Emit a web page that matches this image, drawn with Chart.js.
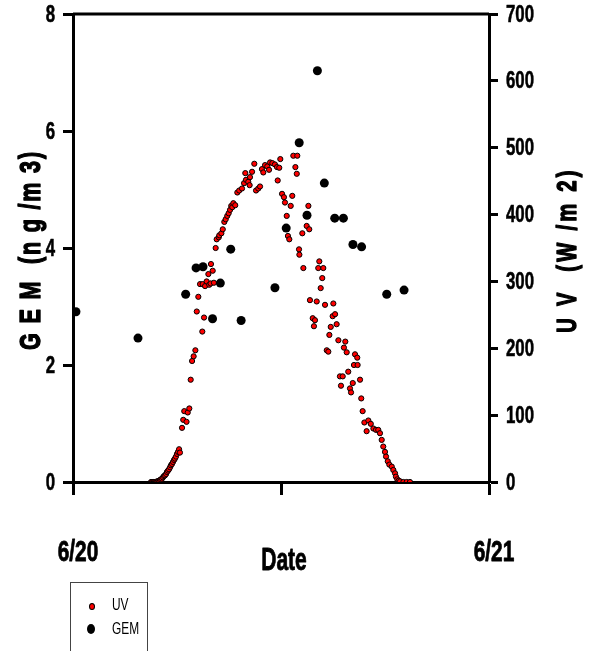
<!DOCTYPE html>
<html lang="en">
<head>
<meta charset="UTF-8">
<title>GEM and UV</title>
<script src="https://cdn.jsdelivr.net/npm/chart.js"></script>
<style>
  html, body { margin: 0; padding: 0; background: #fff; }
  #wrap { position: relative; width: 589px; height: 651px; overflow: hidden; }
  #legend { position: absolute; left: 70px; top: 582px; width: 76px; height: 90px; border: 1px solid #444;
            font: 17px "Liberation Sans", Arial, sans-serif; color: #000; }
  #legend .txt { position: absolute; left: 41px; line-height: 18px; transform: scaleX(0.7); transform-origin: 0 50%; }
  #legend .dot { position: absolute; border-radius: 50%; }
</style>
</head>
<body>
<div id="wrap">
  <canvas id="c" width="589" height="651"></canvas>
  <div id="legend">
    <span class="dot" style="left:18px;top:20px;width:4px;height:5px;background:#f00;border:1px solid #000;"></span>
    <span class="txt" style="top:13px;">UV</span>
    <span class="dot" style="left:16px;top:41px;width:8px;height:10px;background:#000;"></span>
    <span class="txt" style="top:37px;">GEM</span>
  </div>
</div>
<script>
// hours after 0:00 on 6/20
var uvHours = [
  4.50,4.56,4.62,4.67,4.73,4.79,4.85,4.90,4.96,5.02,5.08,5.13,5.19,5.25,5.31,5.37,5.42,5.48,5.54,5.60,
  5.65,5.71,5.77,5.83,5.88,5.94,6.00,6.06,6.12,6.17,
  6.29,6.36,6.42,6.55,6.62,6.71,6.79,6.87,6.96,7.06,
  7.14,7.23,7.33,7.46,7.48,7.56,7.62,7.71,7.81,7.86,
  7.94,7.96,8.06,8.13,8.23,8.29,8.41,8.44,8.56,8.64,
  8.73,8.81,8.90,8.98,9.06,9.13,9.19,9.25,9.36,9.48,
  9.59,9.75,9.87,9.94,9.98,10.11,10.19,10.21,10.33,10.46,
  10.56,10.69,10.79,10.90,10.98,11.08,11.21,11.31,11.37,11.50,
  11.65,11.77,11.81,11.90,11.96,12.06,12.17,12.23,12.33,12.40,
  12.48,12.56,12.65,12.71,12.83,12.91,12.94,13.04,13.06,13.23,
  13.29,13.44,13.48,13.58,13.63,13.67,13.83,13.90,13.96,14.06,
  14.15,14.21,14.29,14.38,14.44,14.54,14.64,14.73,14.79,14.87,
  14.98,15.02,15.12,15.21,15.31,15.40,15.46,15.56,15.63,15.71,
  15.79,15.88,15.98,16.04,16.14,16.21,16.27,16.40,16.42,16.56,
  16.63,16.71,16.81,16.94,17.04,17.18,17.33,17.48,17.61,17.71,
  17.81,17.90,18.00,18.06,18.16,18.25,18.39,18.48,18.58,18.63,
  18.71,18.79,18.87,19.06,19.25,19.44
];
// W/m2
var uvValues = [
  0,0,0,0,0,0,1,1,2,3,4,5,7,9,10,12,15,17,19,22,
  25,27,30,33,35,38,42,45,49,44,
  81,93,106,90,104,110,153,181,188,197,
  255,277,296,225,296,246,293,300,311,295,
  297,326,316,298,350,363,366,369,372,378,
  389,393,398,402,407,413,411,417,414,433,
  436,439,447,462,452,449,444,456,464,476,
  436,439,442,468,463,474,472,467,478,477,
  475,471,451,470,483,431,426,418,398,368,
  363,413,428,488,471,461,488,348,340,372,
  320,398,383,413,378,272,245,233,242,270,
  320,330,290,305,320,265,197,195,220,232,
  248,267,251,236,212,158,144,158,201,210,
  194,165,140,134,148,175,191,186,175,153,
  125,106,89,76,92,87,80,78,78,73,
  63,53,45,38,31,26,23,18,13,8,
  4,2,1,0,0,0
];
var gemHours = [0.17,3.75,6.50,7.10,7.50,8.05,8.50,9.10,9.70,11.65,12.30,13.05,13.50,14.10,14.50,15.10,15.60,16.15,16.65,18.10,19.10];
// ng/m3
var gemValues = [2.91,2.46,3.21,3.66,3.68,2.79,3.40,3.98,2.76,3.32,4.34,5.80,4.56,7.03,5.11,4.51,4.51,4.06,4.02,3.21,3.28];

var dateLabels = ['6/20', '', '6/21'];
var leftTitle = 'G E M  (n g /m 3)';
var rightTitle = 'U V  (W /m 2)';
var xTitle = 'Date';

var FONT = '"Liberation Sans", Arial, sans-serif';

var uvPoints = uvHours.map(function (h, i) { return { x: h, y: uvValues[i] }; });
var gemPoints = gemHours.map(function (h, i) { return { x: h, y: gemValues[i] }; });

// the original uses a tall condensed bold face, so text is squeezed sideways
// and given a thin outline to keep it heavy
function narrowText(ctx, text, x, y, o) {
  ctx.save();
  ctx.translate(x, y);
  if (o.rotate) ctx.rotate(o.rotate);
  ctx.scale(o.squeeze, 1);
  ctx.font = 'bold ' + o.size + 'px ' + FONT;
  if (o.spacing) ctx.letterSpacing = o.spacing + 'px';
  ctx.fillStyle = '#000';
  ctx.strokeStyle = '#000';
  ctx.lineWidth = o.heavy || 1;
  ctx.lineJoin = 'round';
  ctx.textAlign = o.align || 'center';
  ctx.textBaseline = 'middle';
  ctx.fillText(text, 0, 0);
  ctx.strokeText(text, 0, 0);
  ctx.restore();
}

var extras = {
  id: 'extras',
  beforeDatasetsDraw: function (chart) {
    var ctx = chart.ctx, a = chart.chartArea;
    ctx.save();
    ctx.strokeStyle = '#000';
    ctx.lineWidth = 3;
    ctx.beginPath();
    ctx.moveTo(a.left, a.top);
    ctx.lineTo(a.right, a.top);
    ctx.stroke();
    ctx.restore();
  },
  afterDraw: function (chart) {
    var ctx = chart.ctx, a = chart.chartArea, sc = chart.scales;
    var midY = (a.top + a.bottom) / 2;

    sc.y.ticks.forEach(function (t) {
      narrowText(ctx, String(t.value), sc.y.right - 18, sc.y.getPixelForValue(t.value) + 1,
        { size: 24, squeeze: 0.7, align: 'right', heavy: 0.6 });
    });
    sc.y2.ticks.forEach(function (t) {
      narrowText(ctx, String(t.value), sc.y2.left + 17, sc.y2.getPixelForValue(t.value) + 1,
        { size: 24, squeeze: 0.7, align: 'left', heavy: 0.6 });
    });
    sc.x.ticks.forEach(function (t, i) {
      narrowText(ctx, dateLabels[i], sc.x.getPixelForValue(t.value) + 5, sc.x.top + 71,
        { size: 29, squeeze: 0.72, heavy: 0.8 });
    });
    narrowText(ctx, xTitle, (a.left + a.right) / 2 + 3, sc.x.top + 79, { size: 31, squeeze: 0.68, heavy: 0.8 });
    narrowText(ctx, leftTitle, 32, midY + 2, { size: 30, squeeze: 0.72, rotate: -Math.PI / 2, spacing: 2.5, heavy: 1.4 });
    narrowText(ctx, rightTitle, a.right + 79, midY + 2, { size: 28, squeeze: 0.72, rotate: -Math.PI / 2, spacing: 4.5, heavy: 1.4 });
  }
};

new Chart(document.getElementById('c'), {
  type: 'scatter',
  data: {
    datasets: [
      { label: 'GEM', data: gemPoints, yAxisID: 'y',
        backgroundColor: '#000', borderColor: '#000', borderWidth: 0, pointRadius: 4.5 },
      { label: 'UV', data: uvPoints, yAxisID: 'y2',
        backgroundColor: '#ff0000', borderColor: '#000', borderWidth: 1, pointRadius: 2.6 }
    ]
  },
  options: {
    responsive: false,
    animation: false,
    events: [],
    layout: { padding: { top: 14, left: 0, right: 0, bottom: 0 } },
    plugins: { legend: { display: false }, tooltip: { enabled: false } },
    scales: {
      x: {
        type: 'linear', min: 0, max: 24,
        afterFit: function (s) { s.height = 169; },
        afterBuildTicks: function (s) { s.ticks = [{ value: 0 }, { value: 12 }, { value: 24 }]; },
        ticks: { display: false },
        grid: { drawOnChartArea: false, drawTicks: true, tickLength: 13, tickWidth: 3, tickColor: '#000' },
        border: { display: true, color: '#000', width: 3 }
      },
      y: {
        position: 'left', min: 0, max: 8,
        afterFit: function (s) { s.width = 73; },
        ticks: { display: false, stepSize: 2 },
        grid: { drawOnChartArea: false, drawTicks: true, tickLength: 10, tickWidth: 3, tickColor: '#000' },
        border: { display: true, color: '#000', width: 3 }
      },
      y2: {
        position: 'right', min: 0, max: 700,
        afterFit: function (s) { s.width = 100; },
        ticks: { display: false, stepSize: 100 },
        grid: { drawOnChartArea: false, drawTicks: true, tickLength: 9, tickWidth: 3, tickColor: '#000' },
        border: { display: true, color: '#000', width: 3 }
      }
    }
  },
  plugins: [extras]
});
</script>
</body>
</html>
